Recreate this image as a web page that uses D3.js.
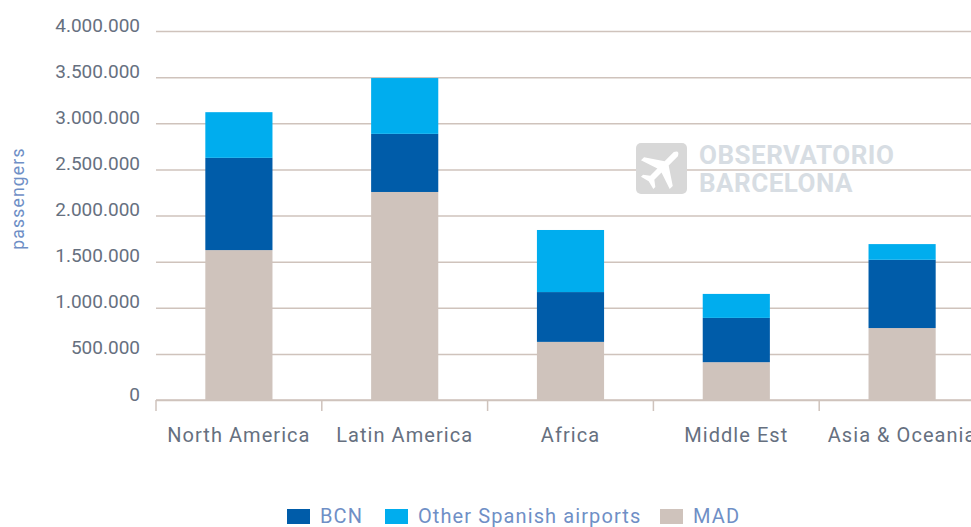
<!DOCTYPE html>
<html>
<head>
<meta charset="utf-8">
<script src="https://cdn.jsdelivr.net/npm/d3@7"></script>
<style>
  html, body { margin: 0; padding: 0; background: #fff; overflow: hidden; }
  text { font-family: "Roboto", "Liberation Sans", sans-serif; }
</style>
</head>
<body>
<svg id="chart" width="971" height="527"></svg>
<script>
const categories = ["North America", "Latin America", "Africa", "Middle Est", "Asia & Oceania"];
const seriesNames = ["MAD", "BCN", "Other Spanish airports"];
const madValues = [1625000, 2255000, 630000, 410000, 780000];
const bcnValues = [1000000, 630000, 540000, 480000, 740000];
const otherValues = [495000, 605000, 673000, 260000, 170000];
const yTicks = [0, 500000, 1000000, 1500000, 2000000, 2500000, 3000000, 3500000, 4000000];
const legendOrder = ["BCN", "Other Spanish airports", "MAD"];

const svg = d3.select("#chart");
const textColor = "#66707f";
const gridColor = "#cfc3bc";

const colors = d3.scaleOrdinal()
  .domain(seriesNames)
  .range(["#cfc3bc", "#005ca9", "#00adee"]);

const rows = categories.map((c, i) => ({
  category: c,
  "MAD": madValues[i],
  "BCN": bcnValues[i],
  "Other Spanish airports": otherValues[i]
}));

const x = d3.scaleBand()
  .domain(categories)
  .range([156, 985])
  .paddingInner(0.595)
  .paddingOuter(0.2975);

const y = d3.scaleLinear()
  .domain([0, 4000000])
  .range([400, 31]);

const numberFormat = d3.formatLocale({
  decimal: ",",
  thousands: ".",
  grouping: [3],
  currency: ["", ""]
}).format(",");

// gridlines and y labels come from the same axis
const yAxis = svg.append("g")
  .attr("transform", "translate(156,0)")
  .call(d3.axisLeft(y).tickValues(yTicks).tickSize(-815).tickPadding(16).tickFormat(numberFormat));
yAxis.select(".domain").remove();
yAxis.selectAll("line")
  .attr("stroke", gridColor)
  .attr("stroke-width", 1.5);
yAxis.selectAll("text")
  .attr("fill", textColor)
  .attr("dy", "0")
  .style("font-size", "19px");

// watermark sits over the grid, under the bars
const logo = svg.append("g");
logo.append("rect")
  .attr("x", 636).attr("y", 143)
  .attr("width", 51).attr("height", 51)
  .attr("rx", 5)
  .attr("fill", "#d8d8d8");
logo.append("path")
  .attr("transform", "translate(661.5,168.5) rotate(45) scale(1.45)")
  .attr("d", "M-2,-14 Q0,-18 2,-14 L2,-5 L14,3 L14,6 L2,2 L2,9 L6,12 L6,14 L0,12.5 L-6,14 L-6,12 L-2,9 L-2,2 L-14,6 L-14,3 L-2,-5 Z")
  .attr("fill", "#fff");
logo.selectAll("text")
  .data(["OBSERVATORIO", "BARCELONA"])
  .join("text")
  .attr("x", 699)
  .attr("y", (d, i) => 164 + i * 28)
  .attr("fill", "#d7dde3")
  .style("font-size", "26px")
  .style("font-weight", 700)
  .style("letter-spacing", "0.5px")
  .text(d => d);

const stacked = d3.stack().keys(seriesNames)(rows);

svg.append("g").selectAll("g")
  .data(stacked)
  .join("g")
  .attr("fill", d => colors(d.key))
  .selectAll("rect")
  .data(d => d)
  .join("rect")
  .attr("x", d => x(d.data.category))
  .attr("y", d => y(d[1]))
  .attr("width", x.bandwidth())
  .attr("height", d => y(d[0]) - y(d[1]));

// x axis, ticks fall on the band edges
const xEdges = categories.map(c => x(c) - x.step() * x.paddingInner() / 2);
const xAxisLine = svg.append("g");
xAxisLine.append("line")
  .attr("x1", 156).attr("x2", 971)
  .attr("y1", y(0)).attr("y2", y(0))
  .attr("stroke", gridColor)
  .attr("stroke-width", 1.5);
xAxisLine.selectAll(".xtick")
  .data(xEdges)
  .join("line")
  .attr("class", "xtick")
  .attr("x1", d => d).attr("x2", d => d)
  .attr("y1", y(0)).attr("y2", y(0) + 11)
  .attr("stroke", gridColor)
  .attr("stroke-width", 1.5);

svg.append("g").selectAll("text")
  .data(categories)
  .join("text")
  .attr("x", d => x(d) + x.bandwidth() / 2)
  .attr("y", 442)
  .attr("text-anchor", "middle")
  .attr("fill", textColor)
  .style("font-size", "20px")
  .style("letter-spacing", "1.05px")
  .text(d => d);

svg.append("text")
  .attr("transform", "translate(24,198.5) rotate(-90)")
  .attr("text-anchor", "middle")
  .attr("fill", "#6f8fc6")
  .style("font-size", "17.5px")
  .style("letter-spacing", "1.2px")
  .text("passengers");

// legend
const legendX = d3.scaleOrdinal().domain(legendOrder).range([287, 385, 660]);
const legend = svg.append("g").selectAll("g")
  .data(legendOrder)
  .join("g")
  .attr("transform", d => `translate(${legendX(d)},509)`);
legend.append("rect")
  .attr("width", 23)
  .attr("height", 15)
  .attr("fill", d => colors(d));
legend.append("text")
  .attr("x", 33)
  .attr("y", 13.5)
  .attr("fill", "#6f8fc6")
  .style("font-size", "20px")
  .style("letter-spacing", "1.1px")
  .text(d => d);
</script>
</body>
</html>
